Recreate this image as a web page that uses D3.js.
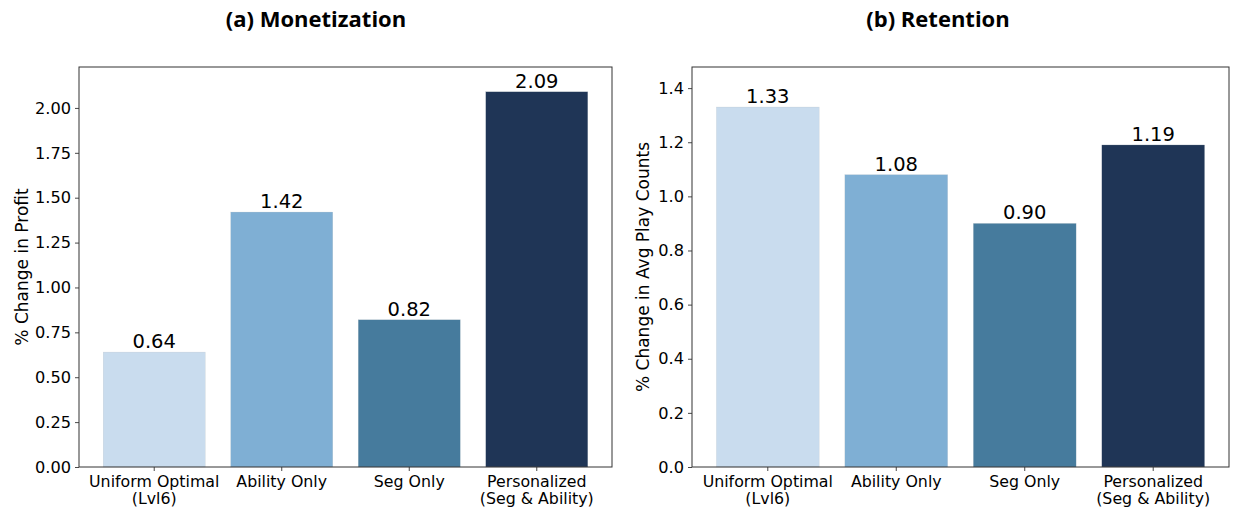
<!DOCTYPE html>
<html>
<head>
<meta charset="utf-8">
<script src="https://cdn.jsdelivr.net/npm/d3@7"></script>
<style>
  html, body { margin: 0; padding: 0; background: #fff; }
  svg { display: block; }
  text { font-family: "DejaVu Sans", sans-serif; fill: #000; }
</style>
</head>
<body>
<svg id="chart" width="1236" height="512"></svg>
<script>
// Strategies compared in both panels
const categories = [["Uniform Optimal", "(Lvl6)"], ["Ability Only"], ["Seg Only"], ["Personalized", "(Seg & Ability)"]];
const barColors = ["#c9dcee", "#7fafd4", "#467b9d", "#1f3556"];

// Panel (a): profit change
const monetizationValues = [0.64, 1.42, 0.82, 2.09];
const monetizationTicks = [0, 0.25, 0.5, 0.75, 1.0, 1.25, 1.5, 1.75, 2.0];

// Panel (b): play count change
const retentionValues = [1.33, 1.08, 0.90, 1.19];
const retentionTicks = [0, 0.2, 0.4, 0.6, 0.8, 1.0, 1.2, 1.4];

const svg = d3.select("#chart");

function panel(opts) {
  const { left, right, top, bottom, values, ticks, yMax, tickFmt, title, yLabel, titleX, yLabelX } = opts;
  const g = svg.append("g");

  const x = d3.scaleLinear().domain([-0.59, 3.59]).range([left, right]);
  const y = d3.scaleLinear().domain([0, yMax]).range([bottom, top]);
  const barW = 0.8;

  // bars
  g.selectAll("rect.bar").data(values).enter().append("rect")
    .attr("class", "bar")
    .attr("x", (d, i) => x(i - barW / 2))
    .attr("width", (d, i) => x(i + barW / 2) - x(i - barW / 2))
    .attr("y", d => y(d))
    .attr("height", d => y(0) - y(d))
    .attr("fill", (d, i) => barColors[i])
    .attr("stroke", "#b0b8c0")
    .attr("stroke-opacity", 0.5)
    .attr("stroke-width", 0.4);

  // value labels
  g.selectAll("text.val").data(values).enter().append("text")
    .attr("class", "val")
    .attr("x", (d, i) => x(i))
    .attr("y", d => y(d) - 4)
    .attr("text-anchor", "middle")
    .attr("font-size", 19.5)
    .text(d => d.toFixed(2));

  // y axis
  const yAxis = d3.axisLeft(y).tickValues(ticks).tickFormat(tickFmt).tickSizeOuter(0).tickSize(4).tickPadding(4);
  const ya = g.append("g").attr("transform", `translate(${left},0)`).call(yAxis);
  ya.select(".domain").remove();
  ya.selectAll("line").attr("stroke", "#333").attr("stroke-width", 0.9);
  ya.selectAll("text").attr("font-size", 16.2).attr("font-family", "DejaVu Sans, sans-serif").attr("fill", "#000");

  // x axis ticks and category labels, one text per line
  const xa = g.append("g").attr("transform", `translate(0,${bottom})`);
  categories.forEach((lines, i) => {
    xa.append("line").attr("x1", x(i)).attr("x2", x(i)).attr("y1", 0).attr("y2", 4)
      .attr("stroke", "#333").attr("stroke-width", 0.9);
    lines.forEach((ln, k) => {
      xa.append("text").attr("text-anchor", "middle").attr("font-size", 15.8)
        .attr("x", x(i)).attr("y", 19.5 + k * 17.2).text(ln);
    });
  });

  // frame
  g.append("rect").attr("x", left).attr("y", top).attr("width", right - left).attr("height", bottom - top)
    .attr("fill", "none").attr("stroke", "#333").attr("stroke-width", 1);

  // y label
  g.append("text")
    .attr("transform", `translate(${yLabelX},${(top + bottom) / 2}) rotate(-90)`)
    .attr("text-anchor", "middle")
    .attr("font-size", 17)
    .text(yLabel);

  // title
  g.append("text")
    .attr("x", titleX).attr("y", 27)
    .attr("text-anchor", "middle")
    .attr("font-size", 22)
    .attr("font-weight", "bold")
    .style("font-family", "'Open Sans', 'DejaVu Sans', sans-serif")
    .text(title);
}

panel({
  left: 79, right: 612, top: 67, bottom: 467,
  values: monetizationValues, ticks: monetizationTicks, yMax: 2.228,
  tickFmt: d3.format(".2f"),
  title: "(a) Monetization", yLabel: "% Change in Profit",
  titleX: 316, yLabelX: 28
});

panel({
  left: 692, right: 1229, top: 67, bottom: 467,
  values: retentionValues, ticks: retentionTicks, yMax: 1.478,
  tickFmt: d3.format(".1f"),
  title: "(b) Retention", yLabel: "% Change in Avg Play Counts",
  titleX: 938, yLabelX: 649
});
</script>
</body>
</html>
